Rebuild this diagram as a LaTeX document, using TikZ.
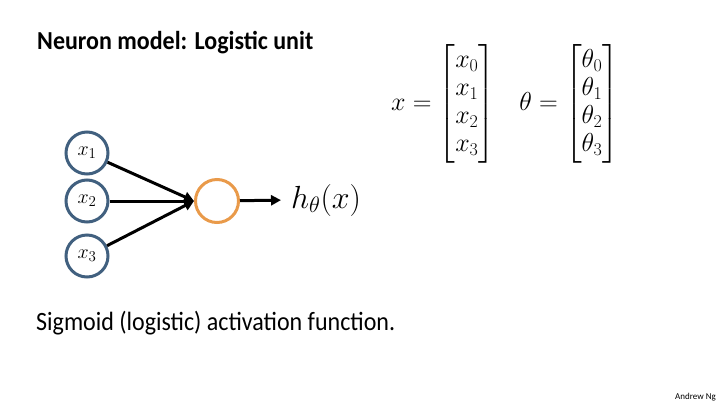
\RequirePackage{fix-cm}
\documentclass[tikz,border=0pt]{standalone}
\usepackage{amsmath}
\usepackage{fontspec}
\setmainfont{Carlito}
\DeclareMathSizes{26}{26}{18}{13}
\DeclareMathSizes{20}{20}{15}{11}
\usetikzlibrary{arrows.meta}
\definecolor{inblue}{HTML}{41607F}
\definecolor{outorange}{HTML}{E99A4A}
\begin{document}
\begin{tikzpicture}[x=1pt,y=-1pt,
  inunit/.style={circle,draw=inblue,line width=3pt,minimum size=42pt,inner sep=0pt,font=\fontsize{20}{24}\selectfont},
  outunit/.style={circle,draw=outorange,line width=3pt,minimum size=43pt,inner sep=0pt},
  conn/.style={line width=3pt,-{Triangle[length=10pt,width=10pt]}},
  txt/.style={inner sep=0pt,anchor=base west}]
\useasboundingbox (0,0) rectangle (720,405);
\node[txt,font=\bfseries\fontsize{24}{28}\selectfont] (title) at (37,49) {\scalebox{1}[1.08]{Neuron model: Logistic unit}};
\node[inunit] (x1) at (87,153) {$x_1$};
\node[inunit] (x2) at (87,201) {$x_2$};
\node[inunit] (x3) at (87,256) {$x_3$};
\node[outunit] (o) at (217,201) {};
\node[inner sep=0pt,anchor=west,font=\fontsize{32}{36}\selectfont] (h) at (291,200) {$h_\theta(x)$};
\draw[conn] (x1) -- (o.west);
\draw[conn] (x2) -- (o.west);
\draw[conn] (x3) -- (o.west);
\draw[conn,shorten >=10pt] (o) -- (h.west);
\node[inner sep=0pt,font=\fontsize{26}{28}\selectfont] (eq) at (505,104)
  {$x=\begin{bmatrix}x_0\\x_1\\x_2\\x_3\end{bmatrix}\hspace{20pt}
    \theta=\begin{bmatrix}\theta_0\\\theta_1\\\theta_2\\\theta_3\end{bmatrix}$};
\node[txt,font=\fontsize{24}{28}\selectfont] (sig) at (36,330) {\scalebox{1}[1.1]{Sigmoid (logistic) activation function.}};
\node[inner sep=0pt,anchor=base east,font=\fontsize{9}{10}\selectfont] (ng) at (716,399) {Andrew Ng};
\end{tikzpicture}
\end{document}
